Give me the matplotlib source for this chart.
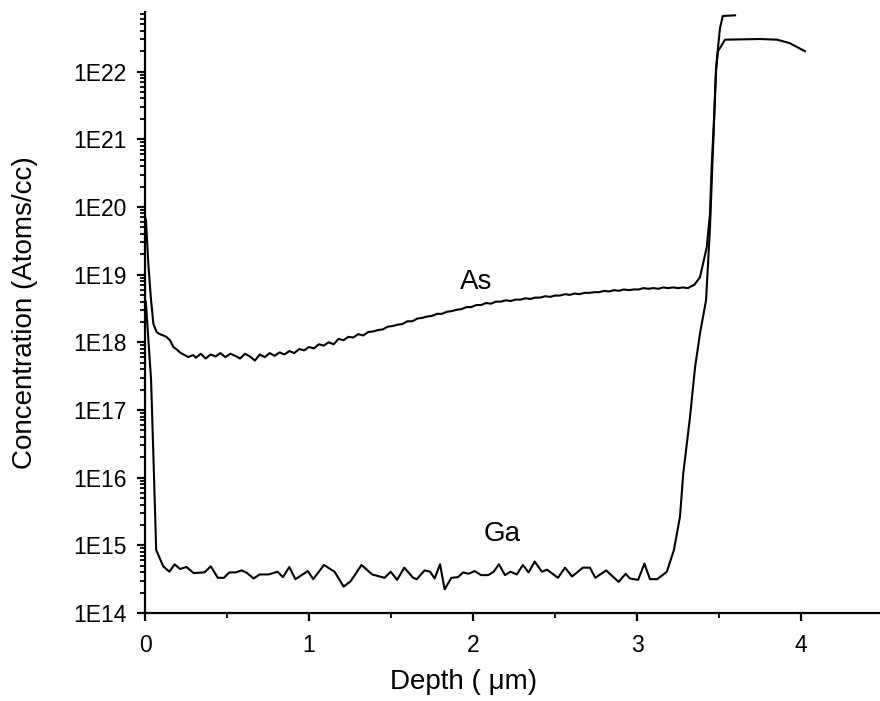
import numpy as np
import matplotlib
matplotlib.use("Agg")
import matplotlib.pyplot as plt
from matplotlib.ticker import FixedLocator, FuncFormatter, LogLocator, MultipleLocator

plt.rcParams['font.family'] = ['Liberation Sans', 'DejaVu Sans']

# As profile (depth in um, log10 of concentration)
as_depth = [0.0, 0.006, 0.02, 0.035, 0.051, 0.071, 0.09, 0.112, 0.13, 0.152, 0.173, 0.19,
            0.213, 0.235, 0.264, 0.28, 0.295,
            0.31, 0.34, 0.37, 0.40, 0.43, 0.46, 0.49, 0.52, 0.55, 0.58, 0.61, 0.64, 0.67,
            0.70, 0.73, 0.76, 0.79, 0.82, 0.85, 0.88, 0.91, 0.94, 0.97, 1.00, 1.03, 1.06,
            1.09, 1.12, 1.15, 1.18, 1.21, 1.24, 1.27, 1.30, 1.33, 1.36, 1.39, 1.42, 1.45,
            1.48, 1.51, 1.54, 1.57, 1.60, 1.63, 1.66, 1.69, 1.72, 1.75, 1.78, 1.81, 1.84,
            1.87, 1.90, 1.93, 1.96, 1.99, 2.02, 2.05, 2.08, 2.11, 2.14, 2.17, 2.20, 2.23,
            2.26, 2.29, 2.32, 2.35, 2.38, 2.41, 2.44, 2.47, 2.50, 2.53, 2.56, 2.59, 2.62,
            2.65, 2.68, 2.71, 2.74, 2.77, 2.80, 2.83, 2.86, 2.89, 2.92, 2.95, 2.98, 3.01,
            3.04, 3.07, 3.10, 3.13, 3.16, 3.19, 3.22, 3.25, 3.28, 3.31,
            3.35, 3.384, 3.425, 3.445, 3.455, 3.47, 3.482, 3.49, 3.506, 3.523, 3.598]
as_log = [19.85, 19.80, 19.16, 18.67, 18.27, 18.15, 18.12, 18.10, 18.08, 18.03, 17.93, 17.90,
          17.85, 17.82, 17.78, 17.80, 17.81,
          17.77, 17.83, 17.76, 17.82, 17.79, 17.84, 17.78, 17.83, 17.80, 17.76, 17.83, 17.79, 17.73,
          17.82, 17.78, 17.84, 17.80, 17.85, 17.82, 17.87, 17.84, 17.90, 17.88, 17.93, 17.91, 17.97,
          17.95, 18.00, 17.97, 18.05, 18.03, 18.08, 18.07, 18.12, 18.10, 18.15, 18.16, 18.18, 18.19,
          18.23, 18.24, 18.26, 18.27, 18.31, 18.31, 18.35, 18.36, 18.38, 18.39, 18.42, 18.42, 18.45,
          18.46, 18.48, 18.49, 18.52, 18.52, 18.55, 18.55, 18.58, 18.57, 18.60, 18.60, 18.62, 18.61,
          18.63, 18.63, 18.65, 18.64, 18.66, 18.66, 18.68, 18.67, 18.69, 18.69, 18.71, 18.70, 18.72,
          18.71, 18.73, 18.73, 18.74, 18.74, 18.76, 18.75, 18.77, 18.76, 18.78, 18.77, 18.78, 18.78,
          18.80, 18.79, 18.80, 18.79, 18.81, 18.80, 18.81, 18.80, 18.81, 18.80,
          18.85, 18.96, 19.40, 19.90, 20.58, 21.32, 22.05, 22.26, 22.64, 22.82, 22.83]

# Ga profile
ga_depth = [0.005, 0.037, 0.055, 0.068, 0.111, 0.148, 0.181, 0.213, 0.253, 0.296,
            0.362, 0.401, 0.444, 0.481, 0.514, 0.553, 0.590, 0.623, 0.662, 0.699,
            0.754, 0.808, 0.841, 0.880, 0.917, 0.993, 1.026, 1.091, 1.156, 1.211,
            1.254, 1.320, 1.385, 1.461, 1.498, 1.537, 1.581, 1.635, 1.657, 1.705,
            1.738, 1.766, 1.799, 1.827, 1.868, 1.908, 1.940, 1.973, 2.010, 2.049,
            2.093, 2.126, 2.158, 2.195, 2.228, 2.267, 2.304, 2.339, 2.376, 2.420,
            2.452, 2.518, 2.561, 2.604, 2.670, 2.713, 2.746, 2.812, 2.888, 2.931,
            2.957, 3.007, 3.045, 3.079, 3.123, 3.182, 3.225, 3.262, 3.282, 3.323,
            3.354, 3.384, 3.421, 3.445, 3.463, 3.482, 3.494, 3.537, 3.75, 3.854,
            3.93, 4.024]
ga_log = [18.60, 17.44, 16.00, 14.93, 14.69, 14.61, 14.72, 14.65, 14.68, 14.59,
          14.60, 14.69, 14.52, 14.52, 14.60, 14.60, 14.63, 14.59, 14.51, 14.57,
          14.57, 14.61, 14.53, 14.68, 14.50, 14.62, 14.50, 14.71, 14.61, 14.39,
          14.47, 14.71, 14.57, 14.52, 14.61, 14.49, 14.67, 14.52, 14.50, 14.63,
          14.61, 14.51, 14.72, 14.35, 14.52, 14.53, 14.60, 14.58, 14.62, 14.56,
          14.56, 14.61, 14.72, 14.56, 14.61, 14.57, 14.71, 14.60, 14.76, 14.61,
          14.64, 14.52, 14.67, 14.54, 14.67, 14.67, 14.52, 14.63, 14.46, 14.58,
          14.51, 14.49, 14.73, 14.50, 14.50, 14.61, 14.93, 15.42, 16.06, 16.89,
          17.63, 18.13, 18.62, 19.69, 20.83, 22.01, 22.30, 22.47, 22.48, 22.47,
          22.42, 22.30]

fig = plt.figure(figsize=(8.8, 7.01), dpi=100)
ax = fig.add_axes([0.1648, 0.1255, 0.8386, 0.857])

ax.plot(as_depth, 10 ** np.array(as_log), color='black', lw=1.5)
ax.plot(ga_depth, 10 ** np.array(ga_log), color='black', lw=1.5)

ax.set_yscale('log')
ax.set_xlim(0, 4.5)
ax.set_ylim(1e14, 7.5e22)

ax.spines['top'].set_visible(False)
ax.spines['right'].set_visible(False)
ax.spines['left'].set_linewidth(1.6)
ax.spines['bottom'].set_linewidth(1.6)

ax.xaxis.set_major_locator(FixedLocator([0, 1, 2, 3, 4]))
ax.xaxis.set_minor_locator(MultipleLocator(0.5))
ax.yaxis.set_major_locator(LogLocator(base=10, numticks=20))
ax.yaxis.set_minor_locator(LogLocator(base=10, subs=np.arange(2, 10), numticks=20))
ax.yaxis.set_major_formatter(FuncFormatter(lambda v, p: "1E%d" % int(round(np.log10(v)))))

ax.tick_params(which='major', direction='out', length=6, width=1.6, labelsize=16.5, pad=7)
ax.tick_params(axis='x', which='major', pad=9)
ax.tick_params(which='minor', direction='out', length=3.5, width=1.3)

ax.set_xlabel("Depth ( μm)", fontsize=20)
ax.set_ylabel("Concentration (Atoms/cc)", fontsize=20)
ax.xaxis.set_label_coords(0.431, -0.093)
ax.yaxis.set_label_coords(-0.145, 0.5)

ax.text(2.02, 10 ** 18.89, "As", fontsize=20, ha='center', va='center')
ax.text(2.18, 10 ** 15.17, "Ga", fontsize=20, ha='center', va='center')

fig.savefig("out.png", dpi=100)
